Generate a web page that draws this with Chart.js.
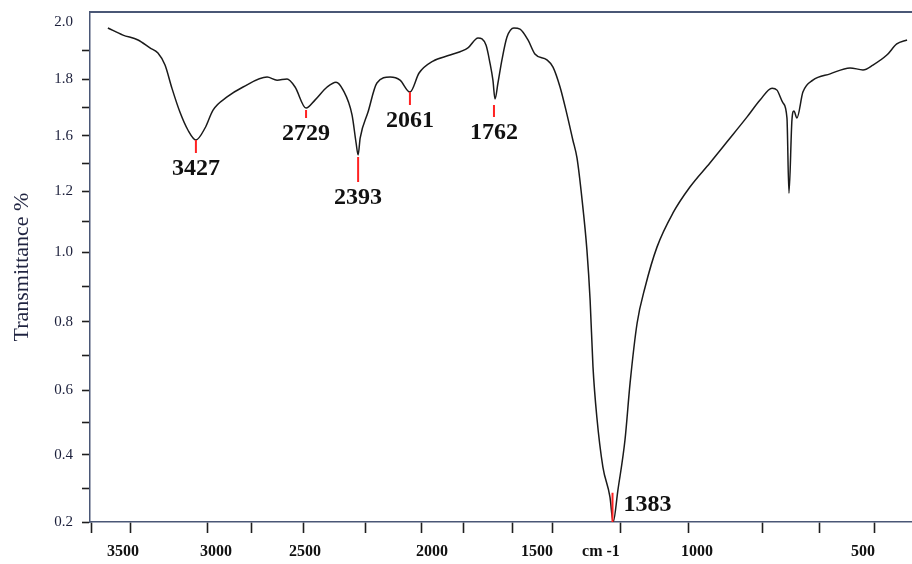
<!DOCTYPE html>
<html>
<head>
<meta charset="utf-8">
<script src="https://cdn.jsdelivr.net/npm/chart.js@4.4.1/dist/chart.umd.min.js"></script>
<style>
  html, body { margin: 0; padding: 0; background: #ffffff; }
  #wrap { width: 912px; height: 564px; position: relative; }
</style>
</head>
<body>
<div id="wrap"><canvas id="c"></canvas></div>
<script>
// ---- spectrum (wavenumber in cm-1, transmittance) ----
const wavenumbers = [
  3581, 3500, 3419, 3355, 3312, 3274, 3237, 3194, 3151, 3108,
  3059, 3016, 2938, 2848, 2713, 2657, 2601, 2556, 2496, 2461,
  2413, 2378, 2350, 2315, 2299, 2291, 2283, 2252, 2217, 2165,
  2126, 2087, 2051, 1995, 1914, 1829, 1781, 1743, 1724, 1710,
  1700, 1686, 1667, 1643, 1610, 1581, 1543, 1510, 1469, 1450,
  1428, 1406, 1388, 1375, 1359, 1344, 1334, 1325, 1313, 1294,
  1272, 1262, 1247, 1225, 1209, 1187, 1162, 1125, 1075, 1022,
  961, 910, 849, 810, 774, 759, 741, 729, 723, 714,
  708, 699, 681, 651, 599, 539, 500, 470, 428, 398,
  367
];
const transmittance = [
  1.979, 1.954, 1.937, 1.909, 1.891, 1.849, 1.768, 1.684, 1.621, 1.571,
  1.628, 1.691, 1.737, 1.772, 1.807, 1.796, 1.800, 1.772, 1.698, 1.726,
  1.772, 1.789, 1.761, 1.674, 1.549, 1.462, 1.585, 1.684, 1.786, 1.807,
  1.796, 1.754, 1.821, 1.863, 1.884, 1.909, 1.944, 1.919, 1.856, 1.796,
  1.730, 1.786, 1.867, 1.947, 1.979, 1.975, 1.937, 1.888, 1.867, 1.842,
  1.772, 1.674, 1.571, 1.440, 1.170, 1.007, 0.863, 0.668, 0.517, 0.364,
  0.275, 0.200, 0.296, 0.446, 0.621, 0.797, 0.900, 1.016, 1.128, 1.229,
  1.404, 1.556, 1.667, 1.726, 1.768, 1.761, 1.716, 1.663, 1.193, 1.656,
  1.688, 1.663, 1.754, 1.796, 1.818, 1.839, 1.832, 1.849, 1.884, 1.923,
  1.937
];

// ---- peak annotations ----
const peakLabels     = ['3427', '2729', '2393', '2061', '1762', '1383'];
const peakPositions  = [3108, 2496, 2291, 2087, 1705, 1264];
const peakMarkTop    = [1.571, 1.691, 1.447, 1.754, 1.709, 0.287];
const peakMarkBottom = [1.476, 1.663, 1.265, 1.709, 1.667, 0.200];
const peakLabelSide  = ['below', 'below', 'below', 'below', 'below', 'right'];

// ---- axes ----
const xTickLabelValues = [3500, 3000, 2500, 2000, 1500, 1000, 500];
const xTickMarkValues  = [3667, 3462, 3048, 2803, 2511, 2260, 2043, 1852, 1619, 1450, 1238, 1025, 804, 630, 464];
const xUnitLabel = 'cm -1';
const xUnitValue = 1300;
const xRange = [352, 3677];
const yTickValues = [2.0, 1.9, 1.8, 1.7, 1.6, 1.4, 1.2, 1.1, 1.0, 0.9, 0.8, 0.7, 0.6, 0.5, 0.4, 0.3, 0.2];
const yTickLabelValues = [2.0, 1.8, 1.6, 1.2, 1.0, 0.8, 0.6, 0.4, 0.2];
const yRange = [0.2, 2.035];
const yTitle = 'Transmittance %';

// calibration of the printed (non-uniform) axes: value -> fraction along the axis
const xWarpValues    = [3677, 3500, 3000, 2500, 2000, 1500, 1000, 500, 352];
const xWarpFractions = [0, 0.0401, 0.1533, 0.2616, 0.4161, 0.5438, 0.7384, 0.9404, 1];
const yWarpValues    = [0.2, 0.4, 0.6, 0.8, 1.0, 1.2, 1.6, 1.8, 2.0, 2.035];
const yWarpFractions = [0, 0.1314, 0.2588, 0.3922, 0.5294, 0.6490, 0.7569, 0.8686, 0.9804, 1];

function interp(from, to, v) {
  const n = from.length, inc = from[n - 1] > from[0];
  let i;
  if (inc ? v <= from[0] : v >= from[0]) i = 0;
  else if (inc ? v >= from[n - 1] : v <= from[n - 1]) i = n - 2;
  else { i = 0; while (i < n - 2 && (inc ? v > from[i + 1] : v < from[i + 1])) i++; }
  const t = (v - from[i]) / (from[i + 1] - from[i]);
  return to[i] + t * (to[i + 1] - to[i]);
}

const warps = { x: [xWarpValues, xWarpFractions], y: [yWarpValues, yWarpFractions] };

class WarpScale extends Chart.LinearScale {
  getPixelForValue(value) {
    if (value === null || value === undefined || Number.isNaN(+value)) return NaN;
    const w = warps[this.axis];
    return this.getPixelForDecimal(interp(w[0], w[1], +value));
  }
  getValueForPixel(pixel) {
    const w = warps[this.axis];
    return interp(w[1], w[0], this.getDecimalForPixel(pixel));
  }
}
WarpScale.id = 'warp';
WarpScale.defaults = {};
Chart.register(WarpScale);

const spectrum = wavenumbers.map((w, i) => ({ x: w, y: transmittance[i] }));
const markerPoints = [];
peakPositions.forEach((p, i) => {
  markerPoints.push({ x: p, y: peakMarkTop[i] });
  markerPoints.push({ x: p, y: peakMarkBottom[i] });
  markerPoints.push({ x: p, y: null });
});

const xLabelMap = new Map(xTickLabelValues.map(v => [v, String(v)]));
xLabelMap.set(xUnitValue, xUnitLabel);
const xMarkSet = new Set(xTickMarkValues);
const yLabelSet = new Set(yTickLabelValues.map(v => v.toFixed(1)));

const axisColor = '#4a5776';
const tickColor = '#1e1e1e';
const transparent = 'rgba(0,0,0,0)';

const peakLabelPlugin = {
  id: 'peakLabels',
  afterDatasetsDraw(chart) {
    const { ctx, scales: { x, y } } = chart;
    ctx.save();
    ctx.font = 'bold 24px "Liberation Serif", "Times New Roman", serif';
    ctx.fillStyle = '#111111';
    peakLabels.forEach((t, i) => {
      const px = x.getPixelForValue(peakPositions[i]);
      if (peakLabelSide[i] === 'right') {
        ctx.textAlign = 'left';
        ctx.textBaseline = 'middle';
        const mid = (y.getPixelForValue(peakMarkTop[i]) + y.getPixelForValue(peakMarkBottom[i])) / 2;
        ctx.fillText(t, px + 11, mid - 3);
      } else {
        ctx.textAlign = 'center';
        ctx.textBaseline = 'middle';
        ctx.fillText(t, px, y.getPixelForValue(peakMarkBottom[i]) + 16);
      }
    });
    ctx.restore();
  }
};

new Chart(document.getElementById('c'), {
  type: 'line',
  data: {
    datasets: [
      {
        data: markerPoints,
        borderColor: '#ff2222',
        borderWidth: 2,
        pointRadius: 0,
        spanGaps: false,
        tension: 0
      },
      {
        data: spectrum,
        borderColor: '#1a1a1a',
        borderWidth: 1.5,
        pointRadius: 0,
        cubicInterpolationMode: 'monotone',
        fill: false
      }
    ]
  },
  options: {
    responsive: true,
    maintainAspectRatio: false,
    animation: false,
    events: [],
    layout: { padding: { top: 12, right: 0, bottom: 0, left: 0 } },
    plugins: { legend: { display: false }, tooltip: { enabled: false } },
    scales: {
      x: {
        type: 'warp',
        position: 'bottom',
        min: xRange[0],
        max: xRange[1],
        afterBuildTicks: s => {
          s.ticks = [...xTickMarkValues, ...xTickLabelValues, xUnitValue]
            .sort((a, b) => b - a).map(v => ({ value: v }));
        },
        afterFit: s => { s.height = 42; s.paddingLeft = 0; s.paddingRight = 0; },
        grid: {
          display: true,
          drawOnChartArea: false,
          drawTicks: true,
          tickLength: 11,
          tickWidth: 1.6,
          tickColor: c => (c.tick && xMarkSet.has(c.tick.value)) ? tickColor : transparent
        },
        border: { display: true, color: axisColor, width: 1.5 },
        ticks: {
          autoSkip: false,
          maxRotation: 0,
          minRotation: 0,
          padding: 9,
          color: '#111111',
          font: { family: '"Liberation Serif", "Times New Roman", serif', size: 16, weight: 'bold' },
          callback: v => xLabelMap.has(v) ? xLabelMap.get(v) : ''
        }
      },
      xTop: {
        type: 'linear',
        position: 'top',
        min: 0,
        max: 1,
        grid: { display: false, drawTicks: false },
        ticks: { display: false },
        border: { display: true, color: axisColor, width: 2 },
        afterFit: s => { s.height = 0; s.paddingLeft = 0; s.paddingRight = 0; }
      },
      y: {
        type: 'warp',
        position: 'left',
        min: yRange[0],
        max: yRange[1],
        afterBuildTicks: s => { s.ticks = yTickValues.map(v => ({ value: v })); },
        afterFit: s => { s.width = 90; s.paddingTop = 0; s.paddingBottom = 0; },
        grid: {
          display: true,
          drawOnChartArea: false,
          drawTicks: true,
          tickLength: 8,
          tickWidth: 1.6,
          tickColor: c => (c.tick && c.tick.value >= 2) ? transparent : tickColor
        },
        border: { display: true, color: axisColor, width: 1.5 },
        ticks: {
          autoSkip: false,
          padding: 9,
          color: '#1b1f3b',
          font: { family: '"Liberation Serif", "Times New Roman", serif', size: 15 },
          callback: v => yLabelSet.has(Number(v).toFixed(1)) ? Number(v).toFixed(1) : ''
        },
        title: {
          display: true,
          text: yTitle,
          color: '#1f2340',
          font: { family: '"Liberation Serif", "Times New Roman", serif', size: 22 },
          padding: { top: 9, bottom: 0 }
        }
      }
    }
  },
  plugins: [peakLabelPlugin]
});
</script>
</body>
</html>
